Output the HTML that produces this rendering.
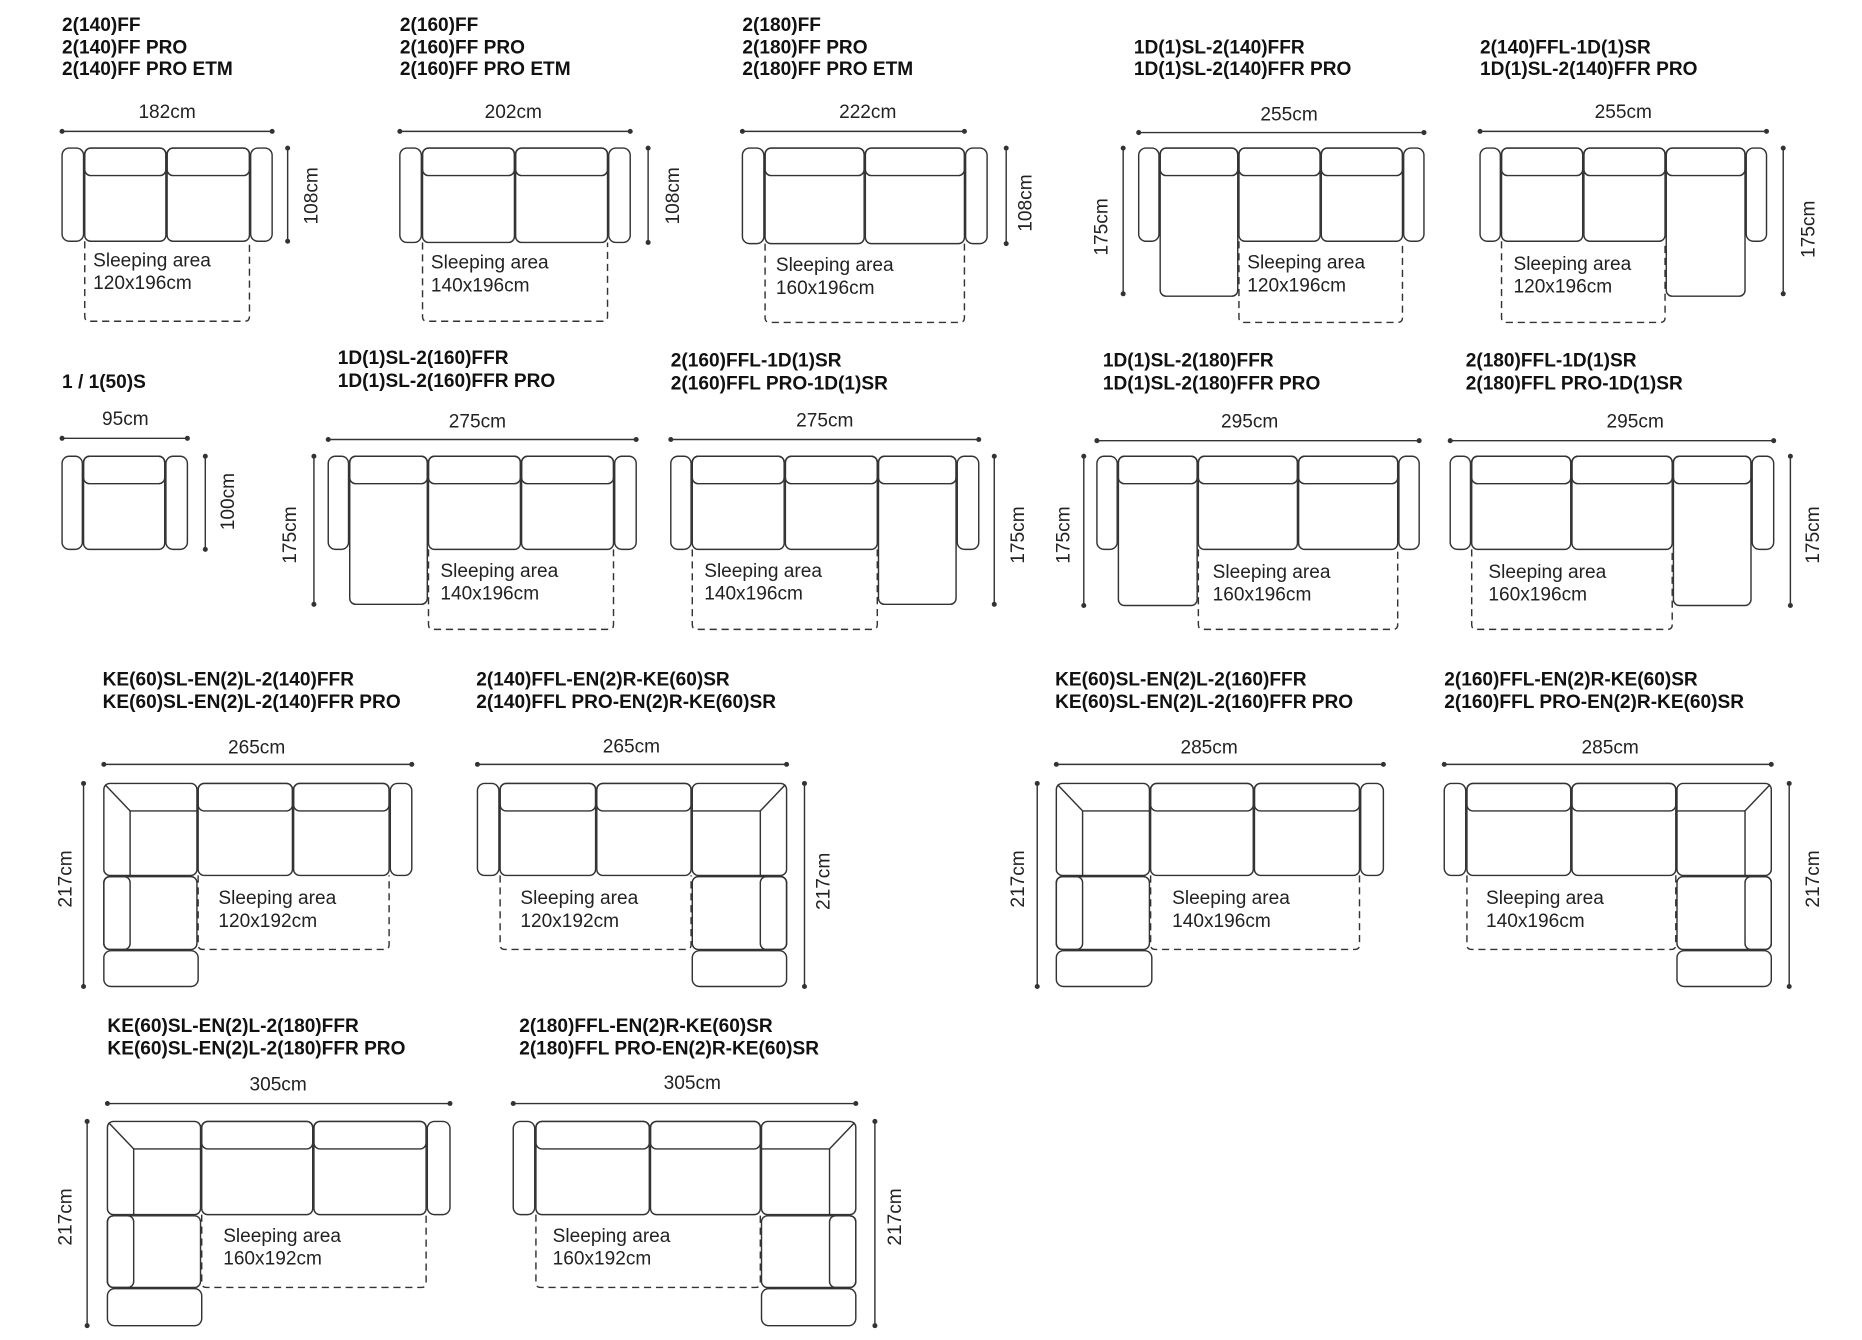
<!DOCTYPE html>
<html><head><meta charset="utf-8"><style>
html,body{margin:0;padding:0;background:#fff;}
svg{display:block}
.t{font-family:"Liberation Sans",sans-serif;font-weight:bold;font-size:16px;fill:#111}
.d{font-family:"Liberation Sans",sans-serif;font-size:16px;fill:#222}
</style></head><body>
<svg id="s" width="1862" height="1340" viewBox="0 0 1560 1122" preserveAspectRatio="none" xmlns="http://www.w3.org/2000/svg">
<g id="shapes" fill="none" stroke="#333" stroke-width="1.2"></g>
<text class="t" x="52" y="26">2(140)FF</text><text class="t" x="52" y="45">2(140)FF PRO</text><text class="t" x="52" y="63">2(140)FF PRO ETM</text>
<text class="t" x="335" y="26">2(160)FF</text><text class="t" x="335" y="45">2(160)FF PRO</text><text class="t" x="335" y="63">2(160)FF PRO ETM</text>
<text class="t" x="622" y="26">2(180)FF</text><text class="t" x="622" y="45">2(180)FF PRO</text><text class="t" x="622" y="63">2(180)FF PRO ETM</text>
<text class="t" x="950" y="45">1D(1)SL-2(140)FFR</text><text class="t" x="950" y="63">1D(1)SL-2(140)FFR PRO</text>
<text class="t" x="1240" y="45">2(140)FFL-1D(1)SR</text><text class="t" x="1240" y="63">1D(1)SL-2(140)FFR PRO</text>
<text class="t" x="52" y="325">1 / 1(50)S</text>
<text class="t" x="283" y="305">1D(1)SL-2(160)FFR</text><text class="t" x="283" y="324">1D(1)SL-2(160)FFR PRO</text>
<text class="t" x="562" y="307">2(160)FFL-1D(1)SR</text><text class="t" x="562" y="326">2(160)FFL PRO-1D(1)SR</text>
<text class="t" x="924" y="307">1D(1)SL-2(180)FFR</text><text class="t" x="924" y="326">1D(1)SL-2(180)FFR PRO</text>
<text class="t" x="1228" y="307">2(180)FFL-1D(1)SR</text><text class="t" x="1228" y="326">2(180)FFL PRO-1D(1)SR</text>
<text class="t" x="86" y="574">KE(60)SL-EN(2)L-2(140)FFR</text><text class="t" x="86" y="593">KE(60)SL-EN(2)L-2(140)FFR PRO</text>
<text class="t" x="399" y="574">2(140)FFL-EN(2)R-KE(60)SR</text><text class="t" x="399" y="593">2(140)FFL PRO-EN(2)R-KE(60)SR</text>
<text class="t" x="884" y="574">KE(60)SL-EN(2)L-2(160)FFR</text><text class="t" x="884" y="593">KE(60)SL-EN(2)L-2(160)FFR PRO</text>
<text class="t" x="1210" y="574">2(160)FFL-EN(2)R-KE(60)SR</text><text class="t" x="1210" y="593">2(160)FFL PRO-EN(2)R-KE(60)SR</text>
<text class="t" x="90" y="864">KE(60)SL-EN(2)L-2(180)FFR</text><text class="t" x="90" y="883">KE(60)SL-EN(2)L-2(180)FFR PRO</text>
<text class="t" x="435" y="864">2(180)FFL-EN(2)R-KE(60)SR</text><text class="t" x="435" y="883">2(180)FFL PRO-EN(2)R-KE(60)SR</text>
<g class="d" text-anchor="middle">
<text x="140" y="99">182cm</text><text x="430" y="99">202cm</text><text x="727" y="99">222cm</text>
<text x="1080" y="101">255cm</text><text x="1360" y="99">255cm</text>
<text x="105" y="356">95cm</text><text x="400" y="358">275cm</text><text x="691" y="357">275cm</text>
<text x="1047" y="358">295cm</text><text x="1370" y="358">295cm</text>
<text x="215" y="631">265cm</text><text x="529" y="630">265cm</text><text x="1013" y="631">285cm</text><text x="1349" y="631">285cm</text>
<text x="233" y="913">305cm</text><text x="580" y="912">305cm</text>
</g>
<g class="d" text-anchor="middle">
<text transform="translate(266,164) rotate(-90)">108cm</text>
<text transform="translate(569,164) rotate(-90)">108cm</text>
<text transform="translate(864,170) rotate(-90)">108cm</text>
<text transform="translate(928,190) rotate(-90)">175cm</text>
<text transform="translate(1520,192) rotate(-90)">175cm</text>
<text transform="translate(196,420) rotate(-90)">100cm</text>
<text transform="translate(248,448) rotate(-90)">175cm</text>
<text transform="translate(858,448) rotate(-90)">175cm</text>
<text transform="translate(896,448) rotate(-90)">175cm</text>
<text transform="translate(1524,448) rotate(-90)">175cm</text>
<text transform="translate(60,736) rotate(-90)">217cm</text>
<text transform="translate(695,738) rotate(-90)">217cm</text>
<text transform="translate(858,736) rotate(-90)">217cm</text>
<text transform="translate(1524,736) rotate(-90)">217cm</text>
<text transform="translate(60,1019) rotate(-90)">217cm</text>
<text transform="translate(755,1019) rotate(-90)">217cm</text>
</g>
<g class="d">
<text x="78" y="223">Sleeping area</text><text x="78" y="242">120x196cm</text>
<text x="361" y="225">Sleeping area</text><text x="361" y="244">140x196cm</text>
<text x="650" y="227">Sleeping area</text><text x="650" y="246">160x196cm</text>
<text x="1045" y="225">Sleeping area</text><text x="1045" y="244">120x196cm</text>
<text x="1268" y="226">Sleeping area</text><text x="1268" y="245">120x196cm</text>
<text x="369" y="483">Sleeping area</text><text x="369" y="502">140x196cm</text>
<text x="590" y="483">Sleeping area</text><text x="590" y="502">140x196cm</text>
<text x="1016" y="484">Sleeping area</text><text x="1016" y="503">160x196cm</text>
<text x="1247" y="484">Sleeping area</text><text x="1247" y="503">160x196cm</text>
<text x="183" y="757">Sleeping area</text><text x="183" y="776">120x192cm</text>
<text x="436" y="757">Sleeping area</text><text x="436" y="776">120x192cm</text>
<text x="982" y="757">Sleeping area</text><text x="982" y="776">140x196cm</text>
<text x="1245" y="757">Sleeping area</text><text x="1245" y="776">140x196cm</text>
<text x="187" y="1040">Sleeping area</text><text x="187" y="1059">160x192cm</text>
<text x="463" y="1040">Sleeping area</text><text x="463" y="1059">160x192cm</text>
</g>
</svg>
<script>
var g=document.getElementById('shapes'),NS='http://www.w3.org/2000/svg';
function el(n,a){var e=document.createElementNS(NS,n);for(var k in a)e.setAttribute(k,a[k]);g.appendChild(e);return e;}
function R(x1,y1,x2,y2,r){el('rect',{x:x1,y:y1,width:x2-x1,height:y2-y1,rx:r||5});}
function seat(x1,x2,y1,y2){R(x1,y1,x2,y2,5);R(x1,y1,x2,y1+23,5);}
function dash(x1,x2,y1,y2){el('path',{d:'M'+x1+' '+y1+'V'+(y2-4)+'Q'+x1+' '+y2+' '+(x1+4)+' '+y2+'H'+(x2-4)+'Q'+x2+' '+y2+' '+x2+' '+(y2-4)+'V'+y1,'stroke-dasharray':'6 4'});}
function dh(x1,x2,y){el('line',{x1:x1,y1:y,x2:x2,y2:y});el('circle',{cx:x1,cy:y,r:1.5,fill:'#333'});el('circle',{cx:x2,cy:y,r:1.5,fill:'#333'});}
function dv(x,y1,y2){el('line',{x1:x,y1:y1,x2:x,y2:y2});el('circle',{cx:x,cy:y1,r:1.5,fill:'#333'});el('circle',{cx:x,cy:y2,r:1.5,fill:'#333'});}
function corner(x1,y1,x2,y2,left){R(x1,y1,x2,y2,5);
 if(left){el('path',{d:'M'+x2+' '+(y1+23)+'H'+(x1+22)+'V'+y2});el('line',{x1:x1+1,y1:y1+1,x2:x1+22,y2:y1+23});}
 else{el('path',{d:'M'+x1+' '+(y1+23)+'H'+(x2-22)+'V'+y2});el('line',{x1:x2-1,y1:y1+1,x2:x2-22,y2:y1+23});}}
function en(x1,y1,x2,y2,left){R(x1,y1,x2,y2,5);if(left)R(x1,y1,x1+22,y2,5);else R(x2-22,y1,x2,y2,5);}
R(52,124,70,202,6);seat(71,139,124,202);seat(140,209,124,202);R(210,124,228,202,6);dash(71,209,202,269);dh(52,228,110);dv(241,124,202);
R(335,124,353,203,6);seat(354,431,124,203);seat(432,509,124,203);R(510,124,528,203,6);dash(354,509,203,269);dh(335,528,110);dv(543,124,203);
R(622,124,640,204,6);seat(641,724,124,204);seat(725,808,124,204);R(809,124,827,204,6);dash(641,808,204,270);dh(622,808,110);dv(843,124,204);
R(954,124,971,202,6);seat(972,1037,124,248);seat(1038,1106,124,202);seat(1107,1175,124,202);R(1176,124,1193,202,6);dash(1038,1175,202,270);dh(954,1193,111);dv(941,124,246);
R(1240,124,1257,202,6);seat(1258,1326,124,202);seat(1327,1395,124,202);seat(1396,1462,124,248);R(1463,124,1480,202,6);dash(1258,1395,202,270);dh(1240,1480,110);dv(1494,124,246);
R(52,382,69,460,6);seat(70,138,382,460);R(139,382,157,460,6);dh(52,157,367);dv(172,382,460);
R(275,382,292,460,6);seat(293,358,382,506);seat(359,436,382,460);seat(437,514,382,460);R(515,382,533,460,6);dash(359,514,460,527);dh(275,533,368);dv(263,382,506);
R(562,382,579,460,6);seat(580,657,382,460);seat(658,735,382,460);seat(736,801,382,506);R(802,382,820,460,6);dash(580,735,460,527);dh(562,820,368);dv(833,382,506);
R(919,382,936,460,6);seat(937,1003,382,507);seat(1004,1087,382,460);seat(1088,1171,382,460);R(1172,382,1189,460,6);dash(1004,1171,460,527);dh(919,1189,369);dv(908,382,507);
R(1215,382,1232,460,6);seat(1233,1316,382,460);seat(1317,1401,382,460);seat(1402,1467,382,507);R(1468,382,1486,460,6);dash(1233,1401,460,527);dh(1215,1486,369);dv(1500,382,507);
corner(87,656,165,733,1);seat(166,245,656,733);seat(246,326,656,733);R(327,656,345,733,6);en(87,734,165,795,1);R(87,796,166,826,6);dash(166,326,733,795);dh(87,345,640);dv(70,656,826);
R(400,656,418,733,6);seat(419,499,656,733);seat(500,579,656,733);corner(580,656,659,733,0);en(580,734,659,795,0);R(580,796,659,826,6);dash(419,579,733,795);dh(400,659,640);dv(674,656,826);
corner(885,656,963,733,1);seat(964,1050,656,733);seat(1051,1139,656,733);R(1140,656,1159,733,6);en(885,734,963,795,1);R(885,796,965,826,6);dash(964,1139,733,795);dh(885,1159,640);dv(869,656,826);
R(1210,656,1228,733,6);seat(1229,1316,656,733);seat(1317,1404,656,733);corner(1405,656,1484,733,0);en(1405,734,1484,795,0);R(1405,796,1484,826,6);dash(1229,1404,733,795);dh(1210,1484,640);dv(1499,656,826);
corner(90,939,168,1017,1);seat(169,262,939,1017);seat(263,357,939,1017);R(358,939,377,1017,6);en(90,1018,168,1078,1);R(90,1079,169,1110,6);dash(169,357,1017,1078);dh(90,377,924);dv(73,939,1110);
R(430,939,448,1017,6);seat(449,544,939,1017);seat(545,637,939,1017);corner(638,939,717,1017,0);en(638,1018,717,1078,0);R(638,1079,717,1110,6);dash(449,637,1017,1078);dh(430,717,924);dv(733,939,1110);
</script>
</body></html>
